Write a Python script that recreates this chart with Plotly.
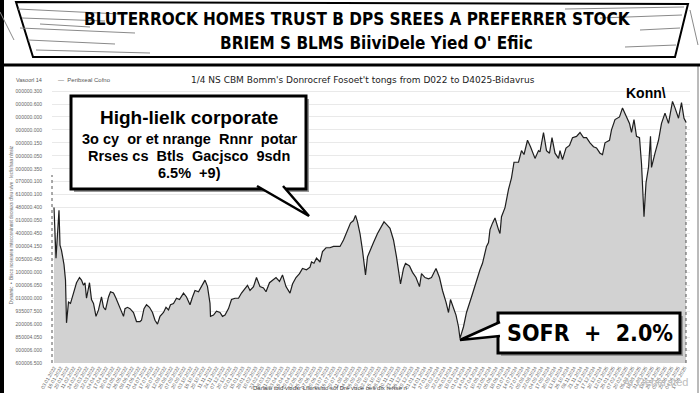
import pandas as pd
import plotly.graph_objects as go

# ---------------- data ----------------
start_date = "2022-01-03"
day_offsets = [0,4,10,12,15,20,23,25,29,33,
               39,45,51,55,59,62,65,71,75,79,
               84,89,95,99,103,109,113,119,124,132,
               139,142,147,152,159,165,172,175,180,185,
               191,197,202,207,212,219,224,229,233,239,
               245,251,259,265,272,277,282,289,295,302,
               307,312,313,319,325,332,337,342,349,355,
               362,369,375,382,387,392,399,405,412,419,
               424,431,437,444,451,457,464,472,477,484,
               491,497,505,512,515,520,525,532,537,544,
               552,559,565,572,579,585,593,599,603,607,
               612,617,623,627,632,639,647,655,660,665,
               672,679,685,693,699,703,711,717,724,731,
               735,742,749,755,764,771,777,784,789,793,
               799,804,809,812,819,825,835,845,852,857,
               865,869,872,877,882,889,892,895,902,909,
               915,920,929,935,940,947,953,962,969,972,
               979,985,991,996,1002,1009,1012,1017,1024,1031,
               1037,1045,1052,1059,1065,1072,1079,1085,1092,1097,
               1102,1111,1115,1122,1131,1137,1144,1151,1155,1160,
               1165,1171,1175,1180,1184,1189,1193,1195,1202,1209,
               1215,1222,1229,1237,1242,1249,1255,1260,1264]
yield_pct = [6.20,5.81,6.18,5.91,5.87,5.76,5.64,5.31,5.47,5.46,
             5.54,5.62,5.66,5.64,5.60,5.62,5.50,5.62,5.49,5.46,
             5.36,5.41,5.51,5.43,5.41,5.51,5.55,5.54,5.50,5.42,
             5.36,5.42,5.43,5.42,5.39,5.32,5.32,5.33,5.42,5.45,
             5.43,5.39,5.33,5.30,5.36,5.39,5.43,5.41,5.45,5.46,
             5.50,5.49,5.54,5.51,5.45,5.51,5.56,5.55,5.59,5.64,
             5.59,5.46,5.36,5.37,5.40,5.39,5.36,5.37,5.42,5.49,
             5.50,5.50,5.54,5.58,5.60,5.56,5.59,5.66,5.59,5.58,
             5.55,5.62,5.64,5.66,5.63,5.68,5.59,5.54,5.61,5.66,
             5.69,5.73,5.72,5.74,5.78,5.77,5.81,5.78,5.86,5.89,
             5.89,5.90,5.90,5.90,5.95,6.00,6.08,6.10,6.14,6.09,
             6.00,5.87,5.68,5.82,5.87,5.93,6.00,6.05,6.09,6.07,
             6.04,5.95,5.82,5.61,5.73,5.77,5.75,5.70,5.66,5.59,
             5.69,5.66,5.65,5.66,5.73,5.66,5.56,5.47,5.39,5.49,
             5.43,5.37,5.28,5.19,5.28,5.39,5.51,5.64,5.72,5.77,
             5.90,5.93,6.03,6.08,6.12,6.03,6.00,6.13,6.20,6.34,
             6.43,6.55,6.55,6.64,6.61,6.72,6.67,6.58,6.64,6.63,
             6.78,6.64,6.62,6.74,6.62,6.58,6.64,6.57,6.66,6.68,
             6.74,6.75,6.78,6.74,6.74,6.70,6.67,6.66,6.62,6.61,
             6.70,6.72,6.80,6.88,6.90,6.97,6.91,6.85,6.78,6.88,
             6.75,6.74,6.54,6.13,6.39,6.51,6.75,6.51,6.62,6.72,
             6.85,6.93,6.85,7.02,6.97,6.89,7.01,6.89,6.86]

ytick_vals = [5.0,5.1,5.2,5.3,5.4,5.5,5.6,5.7,5.8,5.9,6.0,
              6.1,6.2,6.3,6.4,6.5,6.6,6.7,6.8,6.9,7.0,7.1]
ytick_text = ["600006.500","000006.000","850004.050","200006.000","935007.500",
              "010000.000","000006.050","100000.000","005000.450","000004.150",
              "400000.450","010000.050","480000.400","610000.100","070000.100",
              "000000.350","000000.050","000000.150","000000.000","000000.000",
              "000000.600","000000.300"]

title_line1 = "BLUTERROCK HOMES TRUST B DPS SREES A PREFERRER STOCK"
title_line2 = "BRIEM S BLMS BiiviDele Yied O' Efiic"
subtitle = "1/4 NS CBM Bomm's Donrocref Fosoet't tongs from D022 to D4025-Bidavrus"
callout_high = ["High-lielk corporate",
                "3o cy  or et nrange  Rnnr  potar",
                "Rrses cs  Btls  Gacjsco  9sdn",
                "6.5%  +9)"]
callout_sofr = "SOFR  +  2.0%"
peak_label = "Konn\\"
series_name = "Peribxeal Cofno"
unit_label = "Vasoorl 14"
x_caption = "Danaio tuid viodsr Lfiorssiuo sof Dre vuoe oes dix rertse n"
y_caption = "Dynamic  •  Bisco nosearen mtecoswinnst deonuxs dfeu wive · lecfisfsaa nfnsiz"

# ---------------- figure ----------------
start = pd.Timestamp(start_date)
dates = start + pd.to_timedelta(day_offsets, unit="D")

W, H = 700, 393
ML, MR, MT, MB = 52, 10, 87, 30
PW, PH = W - ML - MR, H - MT - MB


def px(x):
    return (x - ML) / PW


def py(y):
    return (H - MB - y) / PH


fig = go.Figure()
fig.add_trace(go.Scatter(
    x=dates, y=yield_pct, mode="lines", name=series_name,
    line=dict(color="#1e1e1e", width=1.2),
    fill="tozeroy", fillcolor="#d2d2d2", showlegend=False,
))

shapes = []
shapes.append(dict(type="rect", xref="paper", yref="paper",
                   x0=px(0), x1=px(4), y0=py(H), y1=py(0),
                   fillcolor="black", line=dict(width=0), layer="above"))
shapes.append(dict(type="line", xref="paper", yref="paper",
                   x0=px(698), x1=px(698), y0=py(H), y1=py(66),
                   line=dict(color="#777", width=1)))
shapes.append(dict(type="path", xref="paper", yref="paper",
                   path=f"M {px(16)},{py(2)} L {px(688)},{py(4)} L {px(675)},{py(57)} L {px(33)},{py(57)} Z",
                   fillcolor="white", line=dict(color="black", width=2)))
hatch = [(18, 9, 120, 14), (22, 18, 105, 21), (20, 28, 135, 33), (28, 40, 115, 44),
         (36, 50, 150, 53), (40, 24, 90, 27), (565, 9, 684, 7), (600, 18, 682, 15),
         (625, 47, 676, 45), (640, 30, 680, 28), (0, 12, 14, 40), (690, 10, 698, 45)]
for x0, y0, x1, y1 in hatch:
    shapes.append(dict(type="line", xref="paper", yref="paper",
                       x0=px(x0), y0=py(y0), x1=px(x1), y1=py(y1),
                       line=dict(color="#8a8a8a", width=1)))
shapes.append(dict(type="line", xref="paper", yref="paper",
                   x0=px(0), x1=px(700), y0=py(65), y1=py(65),
                   line=dict(color="black", width=3)))
shapes.append(dict(type="line", xref="paper", yref="paper",
                   x0=0, x1=0, y0=0, y1=py(175),
                   line=dict(color="#555", width=1, dash="dot")))
shapes.append(dict(type="line", xref="x", yref="y",
                   x0=dates[-1], x1=dates[-1], y0=ytick_vals[0], y1=yield_pct[-1],
                   line=dict(color="#555", width=1, dash="dot")))
# callout 1
shapes.append(dict(type="rect", xref="paper", yref="paper",
                   x0=px(74), x1=px(309), y0=py(192), y1=py(99),
                   fillcolor="#9a9a9a", line=dict(width=0)))
shapes.append(dict(type="rect", xref="paper", yref="paper",
                   x0=px(71), x1=px(306), y0=py(189), y1=py(96),
                   fillcolor="white", line=dict(color="black", width=3)))
shapes.append(dict(type="path", xref="paper", yref="paper",
                   path=f"M {px(257)},{py(186)} L {px(309)},{py(216)} L {px(283)},{py(186)}",
                   fillcolor="white", line=dict(color="black", width=2.5)))
# callout 2
shapes.append(dict(type="rect", xref="paper", yref="paper",
                   x0=px(501), x1=px(683), y0=py(356), y1=py(316),
                   fillcolor="#9a9a9a", line=dict(width=0)))
shapes.append(dict(type="rect", xref="paper", yref="paper",
                   x0=px(498), x1=px(680), y0=py(353), y1=py(313),
                   fillcolor="white", line=dict(color="black", width=3)))
shapes.append(dict(type="path", xref="paper", yref="paper",
                   path=f"M {px(500)},{py(322)} L {px(460)},{py(340)} L {px(500)},{py(336)}",
                   fillcolor="white", line=dict(color="black", width=2.5)))

ann = []
cond = "DejaVu Sans Condensed, Liberation Sans Narrow, DejaVu Sans"


def note(text, x, y, size, family="Liberation Sans", color="black", xanchor="center"):
    ann.append(dict(text=text, x=px(x), y=py(y), xref="paper", yref="paper",
                    xanchor=xanchor, yanchor="middle", showarrow=False,
                    font=dict(family=family, size=size, color=color)))


note(f"<b>{title_line1}</b>", 357, 19, 17, cond)
note(f"<b>{title_line2}</b>", 376, 43, 17, cond)
note(subtitle, 363, 80, 9, "DejaVu Sans", "#222")
note(unit_label, 44, 80, 5.5, color="#555", xanchor="right")
note("—  " + series_name, 56, 80, 6, color="#555", xanchor="left")
for t, yy, s in zip(callout_high, [117, 139, 156, 173], [19, 14.5, 14.5, 14.5]):
    note(f"<b>{t}</b>", 189, yy, s)
note(f"<b>{callout_sofr}</b>", 590, 333, 23, cond)
note(f"<b>{peak_label}</b>", 646, 93, 14)
note(x_caption, 330, 388, 6, color="#444")
note("AI Generated", 655, 382, 11, color="#bdbdbd")

x_lo = start - pd.Timedelta(days=4)
x_hi = start + pd.Timedelta(days=day_offsets[-1] + 8)

fig.update_layout(
    width=W, height=H, autosize=False,
    margin=dict(l=ML, r=MR, t=MT, b=MB, pad=0),
    paper_bgcolor="white", plot_bgcolor="white",
    shapes=shapes, annotations=ann, showlegend=False,
    xaxis=dict(
        type="date", range=[x_lo, x_hi], showgrid=False, zeroline=False,
        tick0=start_date, dtick=13 * 86400000, tickformat="%d.%m.%Y",
        tickangle=-60, tickfont=dict(family="Liberation Sans", size=5, color="#666"),
        ticks="", showline=False, automargin=False,
    ),
    yaxis=dict(
        range=[ytick_vals[0], ytick_vals[0] + PH / 129.5],
        tickvals=ytick_vals, ticktext=ytick_text,
        tickfont=dict(family="Liberation Sans", size=5, color="#666"),
        ticks="outside", ticklen=8, tickcolor="rgba(0,0,0,0)",
        showgrid=True, gridcolor="#e9e9e9", gridwidth=1, zeroline=False, showline=False,
        automargin=False,
        title=dict(text=y_caption, font=dict(family="Liberation Sans", size=4.5, color="#666"), standoff=2),
    ),
)

fig.write_html("out.html", config={"displayModeBar": False},
               post_script="document.body.style.margin='0px';")
